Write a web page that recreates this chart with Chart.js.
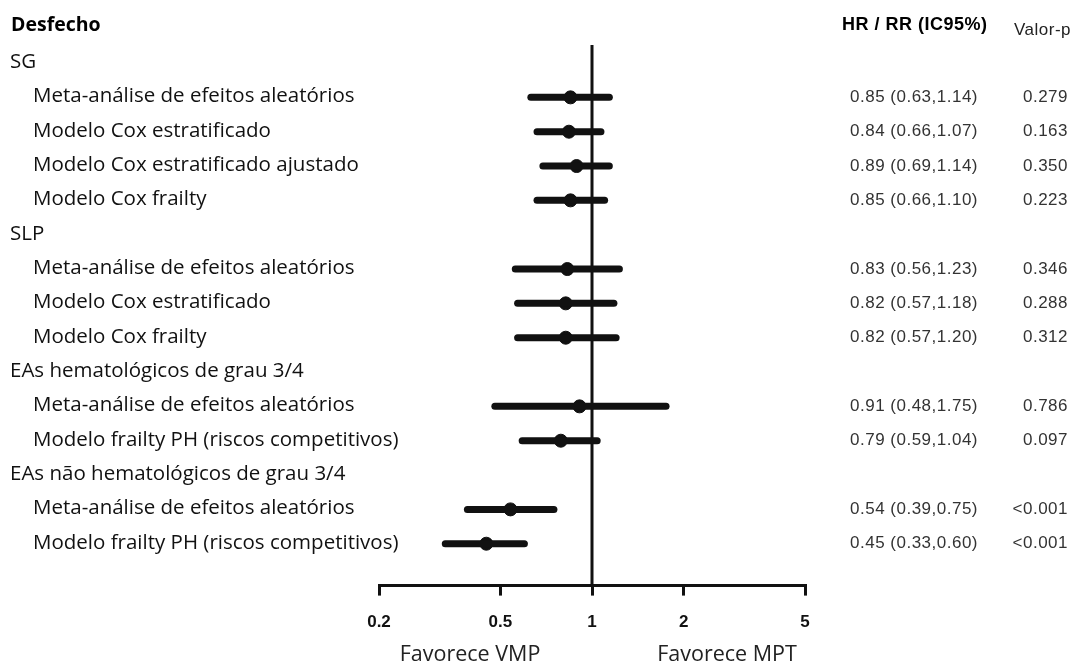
<!DOCTYPE html>
<html>
<head>
<meta charset="utf-8">
<script src="https://cdn.jsdelivr.net/npm/chart.js@4"></script>
<style>
  html, body { margin: 0; padding: 0; background: #fff; }
  #wrap { width: 1077px; height: 664px; position: relative; }
</style>
</head>
<body>
<div id="wrap"><canvas id="forest"></canvas></div>
<script>
// rows, top to bottom (group headers have no estimate)
const rowLabels = [
    'SG',
    'Meta-análise de efeitos aleatórios',
    'Modelo Cox estratificado',
    'Modelo Cox estratificado ajustado',
    'Modelo Cox frailty',
    'SLP',
    'Meta-análise de efeitos aleatórios',
    'Modelo Cox estratificado',
    'Modelo Cox frailty',
    'EAs hematológicos de grau 3/4',
    'Meta-análise de efeitos aleatórios',
    'Modelo frailty PH (riscos competitivos)',
    'EAs não hematológicos de grau 3/4',
    'Meta-análise de efeitos aleatórios',
    'Modelo frailty PH (riscos competitivos)'
];
const estimates = [null, 0.85, 0.84, 0.89, 0.85, null, 0.83, 0.82, 0.82, null, 0.91, 0.79, null, 0.54, 0.45];
const ciLow     = [null, 0.63, 0.66, 0.69, 0.66, null, 0.56, 0.57, 0.57, null, 0.48, 0.59, null, 0.39, 0.33];
const ciHigh    = [null, 1.14, 1.07, 1.14, 1.10, null, 1.23, 1.18, 1.20, null, 1.75, 1.04, null, 0.75, 0.60];
const pValues   = ['', '0.279', '0.163', '0.350', '0.223', '', '0.346', '0.288', '0.312', '', '0.786', '0.097', '', '<0.001', '<0.001'];
const xTicks = [0.2, 0.5, 1, 2, 5];
const refValue = 1;

const INK = '#111';
const yTop = -0.525, yBottom = 15.22;

const datasets = [];

// confidence interval lines
estimates.forEach((est, i) => {
    if (est === null) return;
    datasets.push({
        type: 'line',
        data: [{ x: ciLow[i], y: i }, { x: ciHigh[i], y: i }],
        borderColor: INK,
        borderWidth: 7,
        borderCapStyle: 'round',
        pointRadius: 0,
        clip: false
    });
});

// line of no effect
datasets.push({
    type: 'line',
    data: [{ x: refValue, y: yTop }, { x: refValue, y: yBottom }],
    borderColor: INK,
    borderWidth: 3,
    pointRadius: 0,
    clip: false
});

// point estimates
datasets.push({
    type: 'scatter',
    data: estimates.map((est, i) => est === null ? null : { x: est, y: i }).filter(p => p),
    backgroundColor: INK,
    borderColor: INK,
    pointRadius: 6.5,
    clip: false
});

const textPlugin = {
    id: 'forestText',
    afterDraw(chart) {
        const ctx = chart.ctx;
        const y = chart.scales.y;
        ctx.save();
        ctx.textBaseline = 'middle';

        // headers
        ctx.fillStyle = '#000';
        ctx.textAlign = 'left';
        ctx.font = "bold 19.5px 'Open Sans'";
        ctx.fillText('Desfecho', 11, 25);
        ctx.letterSpacing = '0.5px';
        ctx.font = "bold 18px 'Liberation Sans'";
        ctx.fillText('HR / RR (IC95%)', 842, 25);
        ctx.font = "17px 'Liberation Sans'";
        ctx.fillStyle = '#222';
        ctx.fillText('Valor-p', 1014, 30);

        rowLabels.forEach((label, i) => {
            const py = y.getPixelForValue(i) - 1;
            const group = estimates[i] === null;
            ctx.textAlign = 'left';
            ctx.fillStyle = '#111';
            ctx.letterSpacing = '0px';
            ctx.font = "20.5px 'Open Sans'";
            ctx.fillText(label, group ? 10 : 33, py);
            if (group) return;
            ctx.fillStyle = '#333';
            ctx.letterSpacing = '0.5px';
            ctx.font = "17px 'Liberation Sans'";
            const txt = estimates[i].toFixed(2) + ' (' + ciLow[i].toFixed(2) + ',' + ciHigh[i].toFixed(2) + ')';
            ctx.fillText(txt, 850, py + 1);
            ctx.textAlign = 'right';
            ctx.fillText(pValues[i], 1068, py + 1);
        });

        // favours labels
        ctx.letterSpacing = '0px';
        ctx.fillStyle = '#222';
        ctx.font = "21.5px 'Open Sans'";
        ctx.textAlign = 'center';
        ctx.fillText('Favorece VMP', 470, 655);
        ctx.fillText('Favorece MPT', 727, 655);
        ctx.restore();
    }
};

new Chart(document.getElementById('forest'), {
    type: 'scatter',
    data: { datasets },
    options: {
        responsive: true,
        maintainAspectRatio: false,
        animation: false,
        layout: { padding: { left: 379, right: 272, top: 45, bottom: 14 } },
        plugins: {
            legend: { display: false },
            tooltip: { enabled: false }
        },
        scales: {
            x: {
                type: 'logarithmic',
                min: 0.2,
                max: 5,
                afterBuildTicks: axis => { axis.ticks = xTicks.map(v => ({ value: v })); },
                border: { display: true, color: INK, width: 3 },
                grid: { drawOnChartArea: false, drawTicks: true, tickLength: 10, lineWidth: 3, color: INK },
                ticks: {
                    padding: 17,
                    color: '#111',
                    font: { family: 'Liberation Sans', size: 17, weight: 'bold' },
                    maxRotation: 0,
                    autoSkip: false,
                    callback: v => String(v)
                }
            },
            y: {
                type: 'linear',
                reverse: true,
                min: yTop,
                max: yBottom,
                display: false
            }
        }
    },
    plugins: [textPlugin]
});
</script>
</body>
</html>
